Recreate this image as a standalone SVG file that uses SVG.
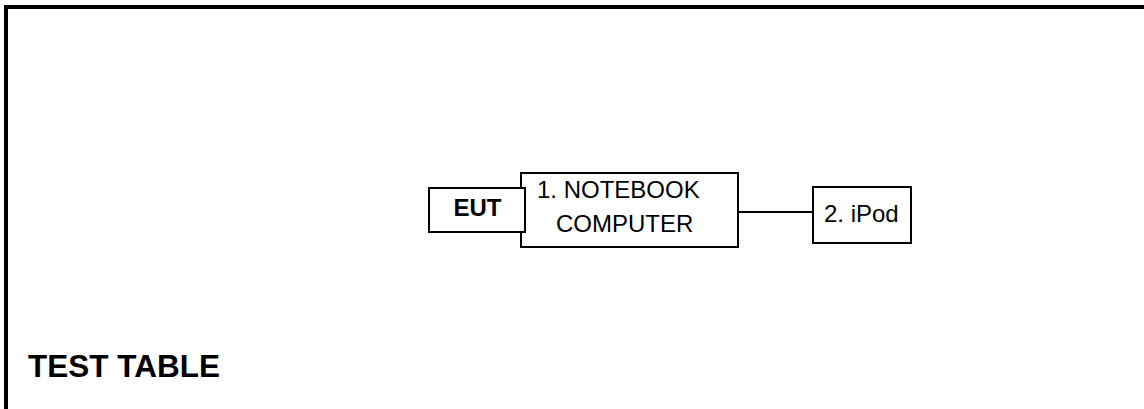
<svg xmlns="http://www.w3.org/2000/svg" width="1144" height="409" viewBox="0 0 1144 409">
<style>
.box{fill:#fff;stroke:#000;stroke-width:2}
.t{font-family:"Liberation Sans",Arial,sans-serif;font-size:24px;fill:#000}
.b{font-weight:bold}
.line{stroke:#000;stroke-width:2;fill:none}
</style>
<rect x="0" y="0" width="1144" height="409" fill="#fff"/>
<rect x="6" y="7" width="1150" height="420" fill="none" stroke="#000" stroke-width="4"/>
<g id="connectors">
<line class="line" x1="738" y1="212" x2="813" y2="212"/>
</g>
<g id="notebook">
<rect class="box" x="521" y="173" width="217" height="74"/>
<text class="t" x="537" y="198">1. NOTEBOOK</text>
<text class="t" x="556" y="232">COMPUTER</text>
</g>
<g id="eut">
<rect class="box" x="429" y="188" width="96" height="44"/>
<text class="t b" x="477.5" y="216" text-anchor="middle">EUT</text>
</g>
<g id="ipod">
<rect class="box" x="813" y="187" width="98" height="56"/>
<text class="t" x="824" y="222">2. iPod</text>
</g>
<g id="title">
<text class="t b" x="28" y="377" style="font-size:31.5px">TEST TABLE</text>
</g>
</svg>
